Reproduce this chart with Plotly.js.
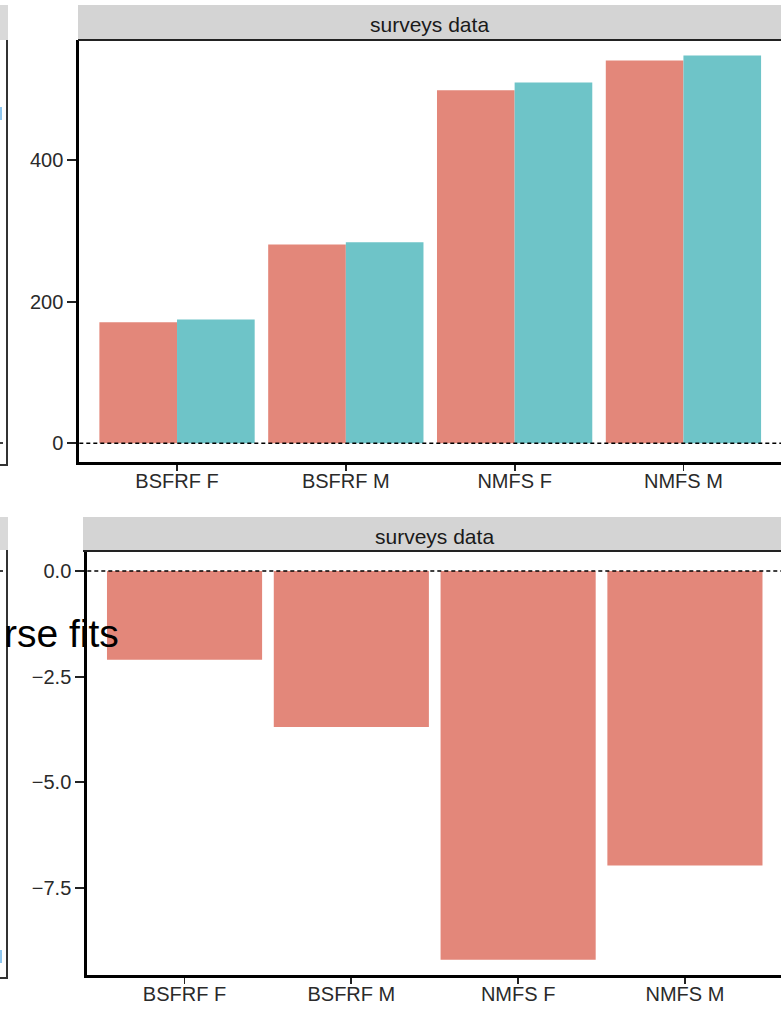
<!DOCTYPE html>
<html>
<head>
<meta charset="utf-8">
<script src="https://cdn.plot.ly/plotly-3.0.1.min.js"></script>
<style>
  html, body { margin: 0; padding: 0; background: #fff; overflow: hidden; }
  #chart { width: 781px; height: 1009px; }
</style>
</head>
<body>
<div id="chart"></div>
<script>
// ---- data ----
const categories = ['BSFRF F', 'BSFRF M', 'NMFS F', 'NMFS M'];
const seriesRed = [171, 281, 499, 541];
const seriesTeal = [175, 284, 510, 548];
const diffValues = [-2.1, -3.69, -9.2, -6.97];
const topTicks = [0, 200, 400];
const bottomTicks = [0, -2.5, -5, -7.5];
const bottomTickLabels = ['0.0', '\u22122.5', '\u22125.0', '\u22127.5'];
const stripLabel = 'surveys data';
const noteText = 'rse fits';

// ---- layout helpers (pixel -> paper) ----
const W = 781, H = 1009;
const px = v => v / W;
const py = v => 1 - v / H;

const RED = '#E3877A';
const TEAL = '#6EC4C8';
const FONT = 'Liberation Sans, Arial, Helvetica, sans-serif';
const tickFont = { family: FONT, size: 20, color: '#2a2a2a' };

const traces = [
  { type: 'bar', x: [0,1,2,3], y: seriesRed, xaxis: 'x', yaxis: 'y',
    marker: { color: RED, line: { width: 0 } }, hoverinfo: 'skip', showlegend: false },
  { type: 'bar', x: [0,1,2,3], y: seriesTeal, xaxis: 'x', yaxis: 'y',
    marker: { color: TEAL, line: { width: 0 } }, hoverinfo: 'skip', showlegend: false },
  { type: 'bar', x: [0,1,2,3], y: diffValues, xaxis: 'x2', yaxis: 'y2', width: 0.93,
    marker: { color: RED, line: { width: 0 } }, hoverinfo: 'skip', showlegend: false }
];

const axisCommon = {
  showgrid: false, zeroline: false, showline: true, linecolor: '#000', linewidth: 3,
  ticks: 'outside', tickwidth: 1.8, tickcolor: '#222', tickfont: tickFont,
  fixedrange: true
};

const shapes = [
  // strips
  { type: 'rect', xref: 'paper', yref: 'paper', x0: px(78), x1: px(790), y0: py(40), y1: py(5),
    fillcolor: '#D4D4D4', line: { width: 0 }, layer: 'below' },
  { type: 'line', xref: 'paper', yref: 'paper', x0: px(78), x1: px(790), y0: py(40), y1: py(40),
    line: { color: '#222', width: 2 } },
  { type: 'rect', xref: 'paper', yref: 'paper', x0: px(83), x1: px(790), y0: py(550), y1: py(517),
    fillcolor: '#D4D4D4', line: { width: 0 }, layer: 'below' },
  { type: 'line', xref: 'paper', yref: 'paper', x0: px(83), x1: px(790), y0: py(551), y1: py(551),
    line: { color: '#222', width: 2 } },
  // zero reference lines
  { type: 'line', xref: 'x domain', yref: 'y', x0: 0, x1: 1, y0: 0, y1: 0,
    line: { color: '#000', width: 1.6, dash: '4px,3px' }, layer: 'above' },
  { type: 'line', xref: 'x2 domain', yref: 'y2', x0: 0, x1: 1, y0: 0, y1: 0,
    line: { color: '#000', width: 1.6, dash: '4px,3px' }, layer: 'above' },
  // partial neighbouring panels at the left edge
  { type: 'rect', xref: 'paper', yref: 'paper', x0: px(0), x1: px(8), y0: py(40), y1: py(5),
    fillcolor: '#D9D9D9', line: { width: 0 }, layer: 'below' },
  { type: 'line', xref: 'paper', yref: 'paper', x0: px(7), x1: px(7), y0: py(40), y1: py(465),
    line: { color: '#333', width: 2 } },
  { type: 'line', xref: 'paper', yref: 'paper', x0: px(0), x1: px(8), y0: py(465), y1: py(465),
    line: { color: '#333', width: 2 } },
  { type: 'line', xref: 'paper', yref: 'paper', x0: px(0), x1: px(4), y0: py(443), y1: py(443),
    line: { color: '#000', width: 1.5, dash: '3px,2px' } },
  { type: 'rect', xref: 'paper', yref: 'paper', x0: px(0), x1: px(2), y0: py(120), y1: py(107),
    fillcolor: '#8EC6EE', line: { width: 0 } },
  { type: 'rect', xref: 'paper', yref: 'paper', x0: px(0), x1: px(8), y0: py(550), y1: py(517),
    fillcolor: '#D9D9D9', line: { width: 0 }, layer: 'below' },
  { type: 'line', xref: 'paper', yref: 'paper', x0: px(7), x1: px(7), y0: py(550), y1: py(978),
    line: { color: '#333', width: 2 } },
  { type: 'line', xref: 'paper', yref: 'paper', x0: px(0), x1: px(8), y0: py(978), y1: py(978),
    line: { color: '#333', width: 2 } },
  { type: 'line', xref: 'paper', yref: 'paper', x0: px(0), x1: px(4), y0: py(571), y1: py(571),
    line: { color: '#000', width: 1.5, dash: '3px,2px' } },
  { type: 'rect', xref: 'paper', yref: 'paper', x0: px(0), x1: px(2), y0: py(963), y1: py(950),
    fillcolor: '#8EC6EE', line: { width: 0 } }
];

const annotations = [
  { xref: 'paper', yref: 'paper', x: px(430), y: py(24), text: stripLabel, showarrow: false,
    xanchor: 'center', yanchor: 'middle',
    font: { family: FONT, size: 21, color: '#1a1a1a' } },
  { xref: 'paper', yref: 'paper', x: px(434), y: py(536), text: stripLabel, showarrow: false,
    xanchor: 'center', yanchor: 'middle',
    font: { family: FONT, size: 21, color: '#1a1a1a' } },
  { xref: 'paper', yref: 'paper', x: px(121), y: py(633), text: noteText, showarrow: false,
    xanchor: 'right', yanchor: 'middle',
    font: { family: FONT, size: 39, color: '#000' } }
];

const layout = {
  width: W, height: H,
  margin: { l: 0, r: 0, t: 0, b: 0, pad: 0 },
  paper_bgcolor: '#fff', plot_bgcolor: '#fff',
  barmode: 'group', bargap: 0.08, bargroupgap: 0,
  showlegend: false,
  xaxis: Object.assign({}, axisCommon, {
    domain: [px(79.3), 1], range: [-0.579, 3.578], anchor: 'y', ticklen: 6,
    ticklabelstandoff: -7,
    tickmode: 'array', tickvals: [0,1,2,3], ticktext: categories
  }),
  yaxis: Object.assign({}, axisCommon, {
    domain: [py(461.7), py(40)], range: [-26, 570], anchor: 'x', ticklen: 9,
    tickmode: 'array', tickvals: topTicks, ticktext: topTicks.map(String)
  }),
  xaxis2: Object.assign({}, axisCommon, {
    domain: [px(87.3), 1], range: [-0.583, 3.576], anchor: 'y2', ticklen: 6,
    ticklabelstandoff: -7,
    tickmode: 'array', tickvals: [0,1,2,3], ticktext: categories
  }),
  yaxis2: Object.assign({}, axisCommon, {
    domain: [py(975), py(550)], range: [-9.56, 0.497], anchor: 'x2', ticklen: 9,
    tickmode: 'array', tickvals: bottomTicks, ticktext: bottomTickLabels
  }),
  shapes: shapes,
  annotations: annotations
};

Plotly.newPlot('chart', traces, layout, { staticPlot: true, displayModeBar: false });
</script>
</body>
</html>
